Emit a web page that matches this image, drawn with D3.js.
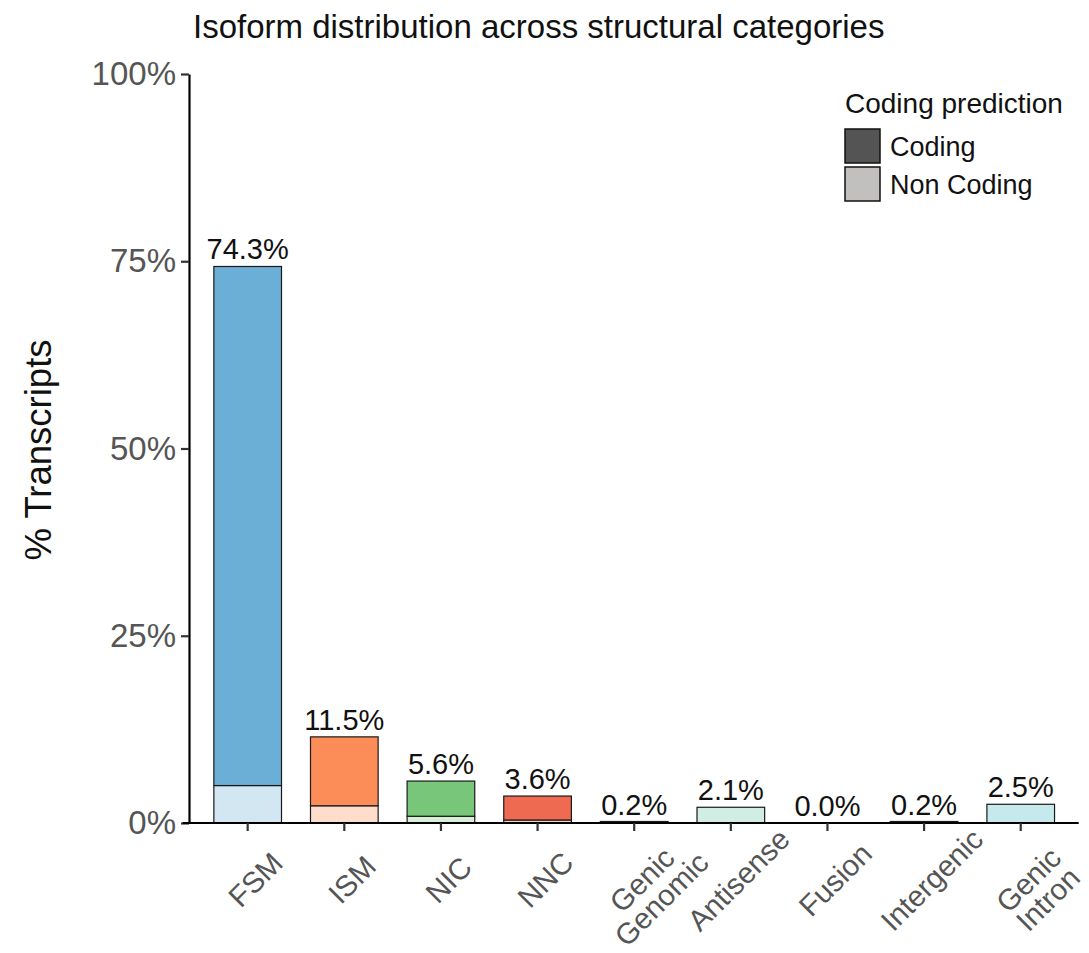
<!DOCTYPE html>
<html>
<head>
<meta charset="utf-8">
<script src="https://cdn.jsdelivr.net/npm/d3@7"></script>
<style>
  body { margin: 0; background: #fff; }
  svg { display: block; }
  text { font-family: "Liberation Sans", Arial, Helvetica, sans-serif; }
</style>
</head>
<body>
<div id="chart"></div>
<script>
// Structural categories and their axis labels (multi-line where needed)
const categories = ["FSM", "ISM", "NIC", "NNC", "Genic Genomic", "Antisense", "Fusion", "Intergenic", "Genic Intron"];
const tickLabels = [["FSM"], ["ISM"], ["NIC"], ["NNC"], ["Genic", "Genomic"], ["Antisense"], ["Fusion"], ["Intergenic"], ["Genic", "Intron"]];

// Percentage of transcripts per category, split by coding prediction
const codingPct    = [69.3, 9.2, 4.7, 3.2, 0.1, 0.0, 0.0, 0.0, 0.0];
const nonCodingPct = [ 5.0, 2.3, 0.9, 0.4, 0.1, 2.1, 0.0, 0.2, 2.5];

// Category fill colours
const categoryColors = ["#6BAED6", "#FC8D59", "#78C679", "#EE6A50", "#969696", "#66C2A4", "#FFC125", "#E9967A", "#41B6C4"];

// Y axis ticks (percent)
const yTicks = [0, 25, 50, 75, 100];

// Legend entries
const legendItems = ["Coding", "Non Coding"];
const legendFills = ["#545454", "#c2bfbf"];

const W = 1089, H = 953;
const nonCodingAlpha = 0.3;

const svg = d3.select("#chart").append("svg")
  .attr("width", W).attr("height", H)
  .style("background", "#fff");

const x = d3.scaleBand()
  .domain(categories)
  .range([189.7, 1078.7])
  .paddingInner(0.3)
  .paddingOuter(0.25);

const y = d3.scaleLinear().domain([0, 100]).range([823, 74]);

const rows = categories.map((c, i) => ({
  cat: c,
  coding: codingPct[i],
  nonCoding: nonCodingPct[i],
  total: codingPct[i] + nonCodingPct[i],
  color: categoryColors[i]
}));

// Blend a colour with white to mimic alpha on a white background
function lighten(hex, a) {
  const c = d3.rgb(hex);
  return d3.rgb(
    Math.round(c.r * a + 255 * (1 - a)),
    Math.round(c.g * a + 255 * (1 - a)),
    Math.round(c.b * a + 255 * (1 - a))
  ).formatHex();
}

// Title
svg.append("text")
  .attr("x", 193).attr("y", 38)
  .attr("font-size", 33)
  .attr("fill", "#111")
  .text("Isoform distribution across structural categories");

// Bars: non-coding at bottom, coding stacked on top
const barG = svg.append("g");
rows.forEach(d => {
  const bx = x(d.cat), bw = x.bandwidth();
  if (d.nonCoding > 0) {
    barG.append("rect")
      .attr("x", bx).attr("width", bw)
      .attr("y", y(d.nonCoding))
      .attr("height", y(0) - y(d.nonCoding))
      .attr("fill", lighten(d.color, nonCodingAlpha))
      .attr("stroke", "#1a1a1a").attr("stroke-width", 1.2);
  }
  if (d.coding > 0) {
    barG.append("rect")
      .attr("x", bx).attr("width", bw)
      .attr("y", y(d.total))
      .attr("height", y(d.nonCoding) - y(d.total))
      .attr("fill", d.color)
      .attr("stroke", "#1a1a1a").attr("stroke-width", 1.2);
  }
});

// Value labels above each bar
svg.append("g").selectAll("text")
  .data(rows).join("text")
  .attr("x", d => x(d.cat) + x.bandwidth() / 2)
  .attr("y", d => y(d.total) - 7)
  .attr("text-anchor", "middle")
  .attr("font-size", 29)
  .attr("fill", "#111")
  .text(d => d.total.toFixed(1) + "%");

// Y axis
const yAxis = svg.append("g")
  .attr("transform", `translate(189,0)`)
  .call(d3.axisLeft(y).tickValues(yTicks).tickFormat(d => d + "%").tickSize(8).tickSizeOuter(0).tickPadding(5));
yAxis.select(".domain").attr("stroke", "#000").attr("stroke-width", 2.2);
yAxis.selectAll(".tick line").attr("stroke", "#333").attr("stroke-width", 2.2);
yAxis.selectAll(".tick text").attr("font-size", 33).attr("fill", "#555")
  .attr("font-family", "'Liberation Sans', Arial, sans-serif");

// X axis
const xAxis = svg.append("g")
  .attr("transform", `translate(0,${y(0)})`)
  .call(d3.axisBottom(x).tickSize(8).tickSizeOuter(0).tickFormat(""));
xAxis.select(".domain").attr("stroke", "#000").attr("stroke-width", 2.2)
  .attr("d", `M${x.range()[0] - 7},0H${x.range()[1]}`);
xAxis.selectAll(".tick line").attr("stroke", "#333").attr("stroke-width", 2.2);

// Rotated category labels, top of text block anchored below each tick
const labelFont = 29.5;
const labelG = svg.append("g");
categories.forEach((c, i) => {
  const cx = x(c) + x.bandwidth() / 2;
  const t = labelG.append("text")
    .attr("transform", `translate(${cx},872) rotate(-45)`)
    .attr("text-anchor", "middle")
    .attr("font-size", labelFont)
    .attr("fill", "#555");
  tickLabels[i].forEach((line, j) => {
    t.append("tspan")
      .attr("x", 0)
      .attr("y", 0)
      .attr("dy", (0.72 + j * 0.93) + "em")
      .text(line);
  });
});

// Y axis title
svg.append("text")
  .attr("transform", `translate(51,450) rotate(-90)`)
  .attr("text-anchor", "middle")
  .attr("font-size", 36.5)
  .attr("fill", "#111")
  .text("% Transcripts");

// Legend
const lg = svg.append("g");
lg.append("text")
  .attr("x", 845).attr("y", 113)
  .attr("font-size", 28)
  .attr("fill", "#111")
  .text("Coding prediction");
legendItems.forEach((name, i) => {
  const ky = 129 + i * 38;
  lg.append("rect")
    .attr("x", 845).attr("y", ky)
    .attr("width", 35).attr("height", 34)
    .attr("fill", legendFills[i])
    .attr("stroke", "#111").attr("stroke-width", 1.5);
  lg.append("text")
    .attr("x", 890).attr("y", ky + 27)
    .attr("font-size", 27)
    .attr("fill", "#111")
    .text(name);
});
</script>
</body>
</html>
